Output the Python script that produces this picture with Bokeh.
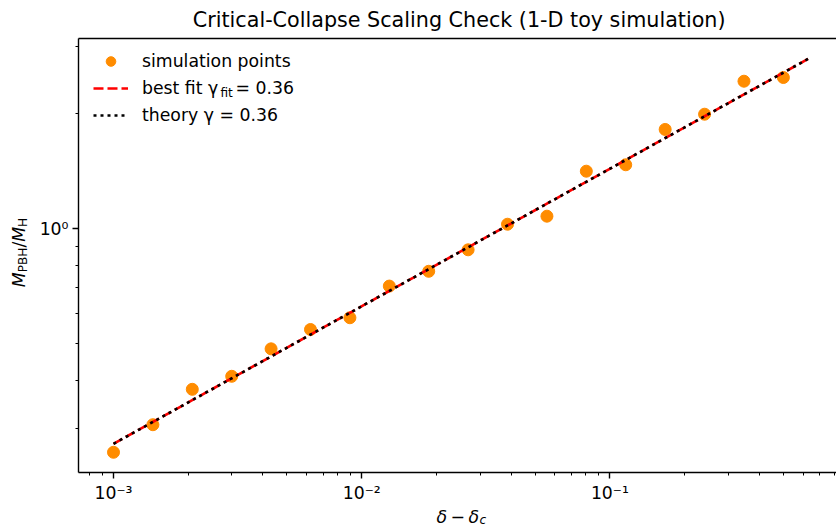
import math

from bokeh.embed import file_html
from bokeh.models import FixedTicker, Label, Legend, LegendItem, LogAxis, Range1d
from bokeh.plotting import figure
from bokeh.resources import INLINE

# --- data -----------------------------------------------------------------
# excess over threshold, delta - delta_c
delta_excess = [0.001, 0.001441, 0.002077, 0.002994, 0.004314, 0.006218,
                0.008964, 0.01292, 0.01862, 0.02684, 0.03868, 0.05576,
                0.08036, 0.1158, 0.1670, 0.2407, 0.3469, 0.5]
# black-hole mass in units of the horizon mass
mass_ratio = [0.260, 0.307, 0.380, 0.411, 0.485, 0.545, 0.585, 0.708, 0.774,
              0.881, 1.028, 1.079, 1.415, 1.471, 1.820, 1.995, 2.434, 2.489]

gamma_fit = 0.36
gamma_theory = 0.36
amp_fit = 3.29
amp_theory = 3.29
line_x = [0.001, 0.63]

x_major = [1e-3, 1e-2, 1e-1]
x_major_labels = ["10\u207b\u00b3", "10\u207b\u00b2", "10\u207b\u00b9"]
x_minor = [8e-4, 9e-4,
           2e-3, 3e-3, 4e-3, 5e-3, 6e-3, 7e-3, 8e-3, 9e-3,
           2e-2, 3e-2, 4e-2, 5e-2, 6e-2, 7e-2, 8e-2, 9e-2,
           0.2, 0.3, 0.4, 0.5, 0.6, 0.7, 0.8]
y_major = [1.0]
y_major_labels = ["10\u2070"]
y_minor = [0.3, 0.4, 0.5, 0.6, 0.7, 0.8, 0.9, 2.0, 3.0]

fit_y = [amp_fit * x ** gamma_fit for x in line_x]
theory_y = [amp_theory * x ** gamma_theory for x in line_x]

FONT = "DejaVu Sans"
BASE = 17.3
SUB = 12.1

# axes box (spines) in data units; the drawing area spans the whole canvas
X_LO, X_HI = 7.23e-4, 0.82
Y_LO, Y_HI = 0.2308, 3.152

p = figure(width=836, height=525, x_axis_type="log", y_axis_type="log",
           x_range=Range1d(10 ** -3.4553, 10 ** -0.0870),
           y_range=Range1d(10 ** -0.7767, 10 ** 0.5976),
           x_axis_location=None, y_axis_location=None,
           output_backend="svg", toolbar_location=None,
           min_border=0)
p.background_fill_color = "white"
p.border_fill_color = "white"
p.outline_line_color = None
p.xgrid.grid_line_color = None
p.ygrid.grid_line_color = None


def spine(side, loc, ticks=None, minor=None, labels=None, bounds=(X_LO, X_HI)):
    ax = LogAxis(fixed_location=loc, bounds=bounds,
                 axis_line_width=1.4, axis_line_color="black",
                 major_tick_line_width=1.4, minor_tick_line_width=1.0,
                 major_tick_in=0, major_tick_out=6,
                 minor_tick_in=0, minor_tick_out=3,
                 major_label_text_font=FONT,
                 major_label_text_font_size=f"{BASE}px",
                 major_label_text_color="black",
                 major_label_standoff=5)
    ax.ticker = FixedTicker(ticks=ticks or [], minor_ticks=minor or [])
    if labels:
        ax.major_label_overrides = dict(zip(ticks, labels))
    if not ticks:
        ax.major_tick_out = 0
        ax.minor_tick_out = 0
        ax.major_label_text_font_size = "0px"
    p.add_layout(ax, side)
    return ax


spine("below", Y_LO, x_major, x_minor, x_major_labels)
spine("above", Y_HI)
yax = spine("left", X_LO, y_major, y_minor, y_major_labels, bounds=(Y_LO, Y_HI))
yax.major_label_standoff = 4

pts = p.scatter(delta_excess, mass_ratio, size=12, color="darkorange")
fit = p.line(line_x, fit_y, line_color="red", line_width=2.6, line_dash="10 4")
theory = p.line(line_x, theory_y, line_color="black", line_width=2.6,
                line_dash="3 4")

legend = Legend(items=[
    LegendItem(label="simulation points", renderers=[pts]),
    LegendItem(label="best fit \u03b3\u2002\u2002= 0.36", renderers=[fit]),
    LegendItem(label="theory \u03b3 = 0.36", renderers=[theory]),
], location=(93, 398))
legend.border_line_color = None
legend.background_fill_alpha = 0.0
legend.padding = 0
legend.margin = 0
legend.spacing = 3
legend.glyph_width = 35
legend.glyph_height = 24
legend.label_height = 24
legend.label_standoff = 14
legend.label_text_font = FONT
legend.label_text_font_size = f"{BASE}px"
legend.label_text_color = "black"
p.add_layout(legend)


def piece(x, y, text, size, italic=False, angle=0.0):
    p.add_layout(Label(x=x, y=y, x_units="screen", y_units="screen",
                       text=text, text_font=FONT,
                       text_font_size=f"{size}px",
                       text_font_style="italic" if italic else "normal",
                       text_color="black", text_align="left",
                       text_baseline="alphabetic", angle=angle,
                       angle_units="rad"))


# title
piece(192.3, 506, "Critical-Collapse Scaling Check (1-D toy simulation)", 20.7)

# subscript of the fitted exponent in the legend
piece(220, 433, "fit", SUB)

# x-axis label:  delta - delta_c
piece(436, 9, "\u03b4", BASE, italic=True)
piece(450, 9, "\u2212", BASE)
piece(468, 9, "\u03b4", BASE, italic=True)
piece(479, 6, "c", SUB, italic=True)

# y-axis label:  M_PBH / M_H  (reads bottom to top)
up = math.pi / 2
y0 = 238.3
piece(18.5, y0, "M", BASE, italic=True, angle=up)
piece(22, y0 + 14.9, "PBH", SUB, angle=up)
piece(18.5, y0 + 39.6, "/", BASE, angle=up)
piece(18.5, y0 + 45.4, "M", BASE, italic=True, angle=up)
piece(22, y0 + 60.3, "H", SUB, angle=up)

open("out.html", "w").write(file_html(p, INLINE))
